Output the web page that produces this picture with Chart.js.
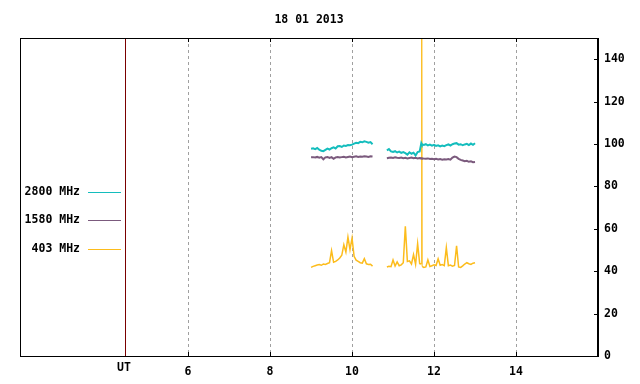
<!DOCTYPE html>
<html><head><meta charset="utf-8">
<script src="https://cdn.jsdelivr.net/npm/chart.js@4"></script>
<style>html,body{margin:0;padding:0;background:#fff}</style>
</head><body>
<canvas id="c" width="640" height="384"></canvas>
<script>
const chartTitle = '18 01 2013';
const seriesNames = ['2800 MHz', '1580 MHz', '403 MHz'];
const utMarker = 4.46;
const utLabel = 'UT';
const xTickValues = [6, 8, 10, 12, 14];
const yTickValues = [0, 20, 40, 60, 80, 100, 120, 140];

const times = [
  9.00, 9.05, 9.10, 9.15, 9.20, 9.25, 9.30, 9.35, 9.40, 9.45,
  9.50, 9.55, 9.60, 9.65, 9.70, 9.75, 9.80, 9.85, 9.90, 9.95,
  10.00, 10.05, 10.10, 10.15, 10.20, 10.25, 10.30, 10.35, 10.40, 10.45, 10.50,
  10.70,
  10.85, 10.90, 10.95, 11.00, 11.05, 11.10, 11.15, 11.20, 11.25, 11.30,
  11.35, 11.40, 11.45, 11.50, 11.55, 11.60, 11.65,
  11.69, 11.70, 11.71,
  11.75, 11.80, 11.85, 11.90, 11.95, 12.00, 12.05, 12.10, 12.15, 12.20,
  12.25, 12.30, 12.35, 12.40, 12.45, 12.50, 12.55, 12.60, 12.65, 12.70,
  12.75, 12.80, 12.85, 12.90, 12.95, 13.00
];

const mhz2800 = [
  97.8, 98.0, 97.6, 98.1, 97.3, 96.8, 96.6, 97.2, 97.8, 97.4,
  98.0, 98.4, 97.9, 98.9, 99.0, 98.6, 99.3, 99.1, 99.5, 99.4,
  99.7, 100.2, 100.6, 100.4, 101.0, 100.8, 101.3, 101.0, 100.6, 100.9, 99.9,
  null,
  97.0, 97.6, 96.5, 96.3, 96.6, 96.0, 96.4, 95.8, 96.2, 95.7,
  95.0, 96.1, 95.4, 95.9, 94.6, 96.2, 96.5,
  100.4, 100.0, 99.8,
  99.6, 99.9, 99.3, 99.7, 99.2, 99.6, 99.1, 99.4, 98.9, 99.3,
  99.0, 99.5, 99.8, 99.3, 99.9, 100.2, 100.4, 99.7, 99.9, 99.4,
  99.8, 100.1, 99.5, 100.2, 99.6, 100.4
];

const mhz1580 = [
  93.7, 93.8, 93.6, 93.9, 93.5, 93.8, 92.8, 93.7, 93.9, 93.4,
  93.8, 93.0, 93.7, 93.9, 93.6, 93.8, 94.0, 93.7, 93.9, 94.1,
  93.8, 94.0, 94.2, 93.9, 94.1, 94.0, 94.2, 94.1, 93.9, 94.2, 94.1,
  null,
  93.3, 93.5, 93.6, 93.4, 93.7, 93.5, 93.4, 93.6, 93.3, 93.5,
  93.2, 93.4, 93.6, 93.3, 93.5, 93.2, 93.4,
  93.3, 93.2, 93.3,
  93.1, 93.0, 93.2, 92.9, 93.0, 92.8, 93.0, 92.7, 92.9, 92.6,
  92.8, 92.7, 92.9, 92.6, 93.6, 94.1, 93.8, 93.0, 92.5, 92.2,
  91.9, 92.1, 91.6, 91.8, 91.4, 91.5
];

const mhz403 = [
  41.8, 42.3, 42.6, 42.9, 43.1, 42.8, 43.4, 43.2, 43.6, 44.0,
  49.7, 44.2, 44.6, 45.3, 46.2, 47.5, 52.5, 49.0, 56.1, 50.2,
  55.6, 47.0, 45.2, 44.6, 44.0, 43.8, 45.9, 43.5, 43.2, 43.3, 42.4,
  null,
  42.0, 42.3, 42.1, 45.3, 42.4, 44.4, 42.6, 43.0, 44.0, 61.2,
  44.6, 44.9, 43.4, 47.8, 43.2, 53.0, 43.6,
  43.4, 160, 42.3,
  41.8, 42.0, 45.3, 42.2, 42.6, 43.0, 42.7, 45.9, 42.8, 43.1,
  42.6, 51.1, 42.6, 42.9, 42.4, 42.7, 52.0, 42.0, 41.8, 42.5,
  43.4, 44.0, 43.5, 43.2, 43.8, 44.0
];

const seriesValues = [mhz2800, mhz1580, mhz403];
const seriesColors = ['#14bdbd', '#7b5a7d', '#fcbc1c'];
const seriesWidths = [2, 2, 1.5];

const FONT = "bold 11.5px 'DejaVu Sans Mono'";
const fontObj = { family: "'DejaVu Sans Mono'", size: 11.5, weight: 'bold' };

const datasets = seriesNames.map((name, i) => ({
  label: name,
  data: times.map((t, k) => ({ x: t, y: seriesValues[i][k] })),
  borderColor: seriesColors[i],
  backgroundColor: seriesColors[i],
  borderWidth: seriesWidths[i],
  segment: {
    borderWidth: c => (c.p0.parsed.y > 150 || c.p1.parsed.y > 150 ? 1 : seriesWidths[i])
  },
  pointRadius: 0,
  tension: 0,
  spanGaps: false
}));

const framePlugin = {
  id: 'frame',
  afterDraw(chart) {
    const ctx = chart.ctx;
    const a = chart.chartArea;
    const xs = chart.scales.x, ys = chart.scales.y;
    ctx.save();
    const ux = Math.round(xs.getPixelForValue(utMarker)) + 0.5;
    ctx.strokeStyle = '#7a0000';
    ctx.lineWidth = 1;
    ctx.beginPath();
    ctx.moveTo(ux, a.top); ctx.lineTo(ux, a.bottom);
    ctx.stroke();
    ctx.strokeStyle = '#000';
    ctx.strokeRect(a.left + 0.5, a.top + 0.5, a.right - a.left - 1, a.bottom - a.top);
    ctx.beginPath();
    xTickValues.forEach(v => {
      const px = Math.round(xs.getPixelForValue(v)) + 0.5;
      ctx.moveTo(px, a.bottom); ctx.lineTo(px, a.bottom - 4);
      ctx.moveTo(px, a.top); ctx.lineTo(px, a.top + 4);
    });
    yTickValues.forEach(v => {
      const py = Math.round(ys.getPixelForValue(v)) + 0.5;
      ctx.moveTo(a.right, py); ctx.lineTo(a.right - 4, py);
    });
    ctx.stroke();
    ctx.fillStyle = '#000';
    ctx.font = FONT;
    ctx.textAlign = 'center';
    ctx.textBaseline = 'middle';
    ctx.fillText(chartTitle, (a.left + a.right) / 2, 20);
    ctx.fillText(utLabel, ux - 1.5, 368.5);
    ctx.textAlign = 'right';
    seriesNames.forEach((name, i) => {
      const ly = 191.5 + i * 28.5;
      ctx.fillStyle = '#000';
      ctx.fillText(name, 80, ly + 0.5);
      ctx.strokeStyle = seriesColors[i];
      ctx.lineWidth = 1;
      ctx.beginPath();
      ctx.moveTo(88, Math.round(ly) + 0.5); ctx.lineTo(121, Math.round(ly) + 0.5);
      ctx.stroke();
    });
    ctx.restore();
  }
};

new Chart(document.getElementById('c'), {
  type: 'line',
  data: { datasets },
  plugins: [framePlugin],
  options: {
    responsive: false,
    animation: false,
    devicePixelRatio: 1,
    layout: { padding: { left: 20, top: 38, right: 0, bottom: 0 } },
    plugins: { legend: { display: false }, title: { display: false }, tooltip: { enabled: false } },
    scales: {
      x: {
        type: 'linear',
        min: 1.9, max: 16,
        afterBuildTicks: s => { s.ticks = [utMarker, ...xTickValues].map(v => ({ value: v })); },
        afterFit: s => { s.height = 28; },
        ticks: {
          autoSkip: false, maxRotation: 0,
          callback: v => (v === utMarker ? '' : String(v)),
          color: '#000', font: fontObj, padding: 9
        },
        grid: {
          drawTicks: false,
          color: c => (c.tick && c.tick.value === utMarker ? 'rgba(0,0,0,0)' : '#a0a0a0'),
          lineWidth: 1
        },
        border: { display: true, color: '#000', dash: [3, 3] }
      },
      y: {
        position: 'right',
        min: 0, max: 150,
        afterBuildTicks: s => { s.ticks = yTickValues.map(v => ({ value: v })); },
        afterFit: s => { s.width = 42; },
        ticks: { color: '#000', font: fontObj, padding: 6 },
        grid: { display: false, drawTicks: false },
        border: { display: true, color: '#000' }
      }
    }
  }
});
</script>
</body></html>
